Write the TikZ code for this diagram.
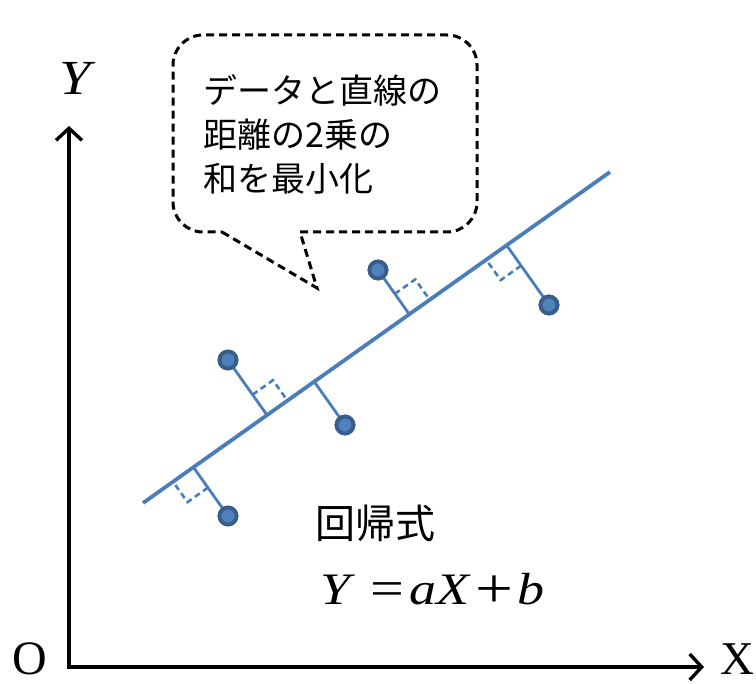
\documentclass[tikz,border=0pt]{standalone}
\usepackage{graphicx}
\usepackage{fontspec}
\setmainfont{Liberation Serif}
\newfontfamily\jp{Noto Sans CJK JP}
\usetikzlibrary{calc,arrows.meta}
\definecolor{lineblue}{HTML}{4A7EBB}
\definecolor{ptfill}{HTML}{4F81BD}
\definecolor{ptring}{HTML}{385D8A}
\begin{document}
\begin{tikzpicture}[x=1pt,y=-1pt,
  axis/.style={line width=3.4pt,-{Straight Barb[length=12pt,width=26pt,line width=3.4pt]}},
  datapt/.style={circle,fill=ptfill,draw=ptring,line width=3.8pt,minimum size=17pt,inner sep=0pt},
  regline/.style={lineblue,line width=3.8pt},
  perp/.style={lineblue,line width=2.8pt},
  sq/.style={lineblue,line width=2.6pt,dash pattern=on 6pt off 4pt},
  callout/.style={line width=3pt,dash pattern=on 8pt off 5pt},
  lbl/.style={inner sep=0pt}
]
\useasboundingbox (0,0) rectangle (756,684);
% axes
\coordinate (O) at (69,667);
\coordinate (Ytip) at (69,126);
\coordinate (Xtip) at (704,667);
\draw[axis] ($(O)+(0,1.7)$) -- (Ytip);
\draw[axis] ($(O)+(-1.7,0)$) -- (Xtip);
\node[lbl,anchor=base] (olbl) at (30,674) {\fontsize{48}{48}\selectfont O};
\node[lbl,anchor=base] (xlbl) at (737,674) {\fontsize{47}{47}\selectfont X};
\node[lbl,anchor=base] (ylbl) at (75,95) {\scalebox{1.15}[1]{\fontsize{49}{49}\selectfont\itshape Y}};
% regression line
\coordinate (A) at (143,503);
\coordinate (B) at (610,172);
\draw[regline] (A) -- (B);
% data points
\node[datapt] (p1) at (228,360) {};
\node[datapt] (p2) at (345,425) {};
\node[datapt] (p3) at (228,516) {};
\node[datapt] (p4) at (378,270) {};
\node[datapt] (p5) at (549,305) {};
\foreach \p in {p1,p2,p3,p4,p5}{
  \coordinate (f\p) at ($(A)!(\p)!(B)$);
  \draw[perp] (\p.center) -- (f\p);
}
% right-angle marks
\foreach \p/\s in {p1/1,p3/-1,p4/1,p5/-1}{
  \coordinate (u\p) at ($(f\p)!25pt!(\p.center)$);
  \coordinate (v\p) at ($(f\p)!\s*25pt!(B)$);
  \draw[sq] (u\p) -- ($(u\p)+(v\p)-(f\p)$) -- (v\p);
}
% redraw points on top
\foreach \p in {p1,p2,p3,p4,p5}{
  \node[datapt] at (\p) {};
}
% callout
\draw[callout,rounded corners=30pt] (300,232) -- (477,232) -- (477,35) -- (173,35) -- (173,232) -- (222,232);
\coordinate (tail) at (317,288);
\draw[callout] (222,232) -- (tail) -- (300,232);
\node[lbl,anchor=base west,align=left,font={\jp\fontsize{34}{44}\selectfont}] (note) at (203,192) {データと直線の\\距離の2乗の\\和を最小化};
% formula
\node[lbl,anchor=base west] (kaiki) at (315,539) {\jp\fontsize{40}{40}\selectfont 回帰式};
\node[lbl,anchor=base west] (eq) at (320,605) {\scalebox{1.2}[1]{\fontsize{45}{45}\selectfont\itshape Y\hspace{17pt}\raisebox{-0.5pt}{\upshape\fontsize{50}{50}\selectfont =}\hspace{4pt}aX\hspace{5.5pt}\raisebox{-2.5pt}{\upshape\fontsize{56}{56}\selectfont +}\hspace{3.5pt}b}};
\end{tikzpicture}
\end{document}
